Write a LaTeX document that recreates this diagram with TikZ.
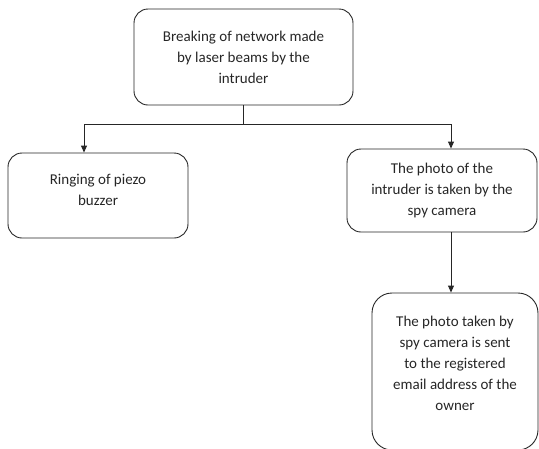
\documentclass[tikz,border=0pt]{standalone}
\usepackage{fontspec}
\setmainfont{Carlito}
\usetikzlibrary{arrows.meta}
\tikzset{
  box/.style={draw=black!85, line width=0.9pt, rounded corners=14pt, align=center,
    font=\fontsize{15}{21}\selectfont, inner sep=0pt, text=black!85},
  link/.style={draw=black!85, line width=0.9pt},
  arr/.style={link, -{Triangle[width=6pt,length=7pt]}}
}
\begin{document}
\begin{tikzpicture}[x=1pt,y=-1pt]
\useasboundingbox (0,0) rectangle (539,448);
\node[box, minimum width=219pt, minimum height=96pt] (a) at (243.5,57)
  {Breaking of network made\\by laser beams by the\\intruder};
\node[box, minimum width=180pt, minimum height=85pt] (b) at (98,195.5)
  {Ringing of piezo\\buzzer\\[-9pt]\mbox{}};
\node[box, minimum width=190pt, minimum height=83pt] (c) at (442,190.5)
  {The photo of the\\intruder is taken by the\\spy camera};
\node[box, rounded corners=20pt, minimum width=166pt, minimum height=157pt] (d) at (455,371.5)
  {The photo taken by\\spy camera is sent\\to the registered\\email address of the\\owner\\[-4pt]\mbox{}};
\coordinate (j) at (243,124);
\coordinate (jl) at (84,124);
\coordinate (jr) at (451,124);
\draw[link] (j |- a.south) -- (j);
\draw[link] (jl) -- (jr);
\draw[arr] (jl) -- (jl |- b.north);
\draw[arr] (jr) -- (jr |- c.north);
\draw[arr] (jr |- c.south) -- (jr |- d.north);
\end{tikzpicture}
\end{document}
